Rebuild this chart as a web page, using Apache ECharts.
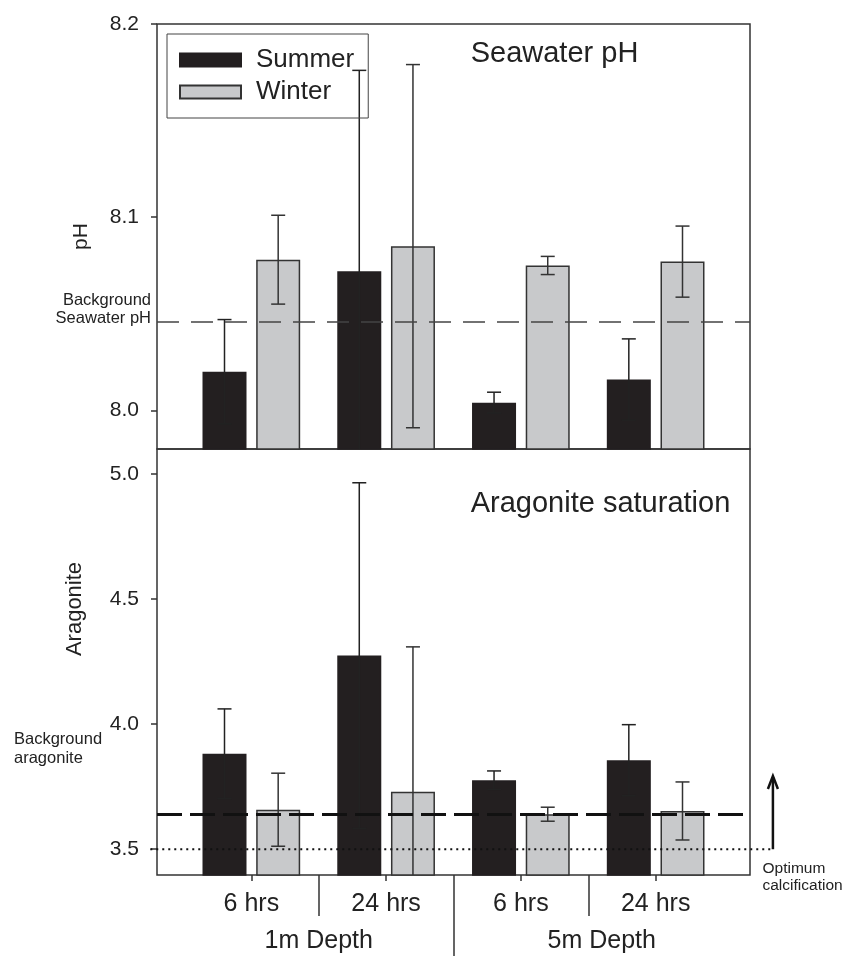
<!DOCTYPE html>
<html>
<head>
<meta charset="utf-8">
<script src="https://cdn.jsdelivr.net/npm/echarts@6/dist/echarts.min.js"></script>
<style>
html,body{margin:0;padding:0;background:#fff;}
#c{width:848px;height:956px;}
</style>
</head>
<body>
<div id="c"></div>
<script>
// ---- data ----
const groups = [1, 2, 3, 4];
const hourLabels = ['6 hrs', '24 hrs', '6 hrs', '24 hrs'];
const depthLabels = ['1m Depth', '5m Depth'];
const depthLabelPos = [1.5, 3.6];
const groupSeparators = [1.5, 3.5];
const depthSeparator = [2.5];

const phSummer = [8.020, 8.072, 8.004, 8.016];
const phSummerErr = [0.027, 0.104, 0.0054, 0.021];
const phWinter = [8.078, 8.085, 8.075, 8.077];
const phWinterErr = [0.023, 0.094, 0.0047, 0.0184];

const aragSummer = [3.882, 4.274, 3.776, 3.856];
const aragSummerErr = [0.179, 0.691, 0.037, 0.142];
const aragWinter = [3.658, 3.730, 3.640, 3.653];
const aragWinterErr = [0.146, 0.579, 0.028, 0.116];

const bgPH = 8.046;
const bgArag = 3.64;
const optimumArag = 3.5;
const optimumArrowTop = 3.793;
const optimumLineX = [0.25, 4.87];

const phTicks = [8.0, 8.1, 8.2];
const aragTicks = [3.5, 4.0, 4.5, 5.0];

// ---- styles ----
const FONT = 'Liberation Sans, Arial, sans-serif';
const BAR_W = 44;
const BAR_GAP = 0.22;
const BAR_SHIFT = (BAR_W + BAR_W * BAR_GAP) / 2;
const CAP = 14;
const SUMMER_COLOR = '#231f20';
const WINTER_COLOR = '#c8c9cb';
const LINE_COLOR = '#333';

function pairs(xs, ys) { return xs.map((x, i) => [x, ys[i]]); }
function triples(xs, ys, es) { return xs.map((x, i) => [x, ys[i], es[i]]); }

function errRender(sign, color) {
  return function (params, api) {
    const x = api.value(0), y = api.value(1), e = api.value(2);
    const hi = api.coord([x, y + e]);
    const lo = api.coord([x, y - e]);
    const cx = hi[0] + sign * BAR_SHIFT;
    const hw = CAP / 2;
    const style = { stroke: color, lineWidth: 1.5, fill: null };
    return {
      type: 'group',
      children: [
        { type: 'line', shape: { x1: cx, y1: hi[1], x2: cx, y2: lo[1] }, style },
        { type: 'line', shape: { x1: cx - hw, y1: hi[1], x2: cx + hw, y2: hi[1] }, style },
        { type: 'line', shape: { x1: cx - hw, y1: lo[1], x2: cx + hw, y2: lo[1] }, style }
      ]
    };
  };
}

function barSeries(name, xIdx, yIdx, values, color, border, extra) {
  return Object.assign({
    name, type: 'bar', xAxisIndex: xIdx, yAxisIndex: yIdx,
    data: pairs(groups, values),
    barWidth: BAR_W, barGap: (BAR_GAP * 100) + '%',
    itemStyle: { color, borderColor: border, borderWidth: 1.5 },
    clip: true, z: 2
  }, extra || {});
}

function errSeries(xIdx, yIdx, values, errs, sign, color) {
  return {
    type: 'custom', xAxisIndex: xIdx, yAxisIndex: yIdx,
    data: triples(groups, values, errs),
    encode: { x: 0, y: 1 },
    renderItem: errRender(sign, color),
    clip: true, z: 3, silent: true
  };
}

const chart = echarts.init(document.getElementById('c'));

const yAxisCommon = {
  type: 'value',
  axisLine: { show: false },
  splitLine: { show: false },
  nameLocation: 'middle',
  nameTextStyle: { color: '#222', fontFamily: FONT },
};

chart.setOption({
  animation: false,
  backgroundColor: '#fff',
  textStyle: { fontFamily: FONT, color: '#222' },
  grid: [
    { left: 157, top: 24, width: 593, height: 425, show: true, borderColor: LINE_COLOR, borderWidth: 1.5, backgroundColor: 'transparent' },
    { left: 157, top: 449, width: 593, height: 426, show: true, borderColor: LINE_COLOR, borderWidth: 1.5, backgroundColor: 'transparent' }
  ],
  legend: {
    orient: 'vertical', left: 167, top: 34,
    itemWidth: 61, itemHeight: 13, itemGap: 6,
    padding: [13, 14, 13, 12],
    borderColor: '#444', borderWidth: 1,
    icon: 'rect',
    textStyle: { fontSize: 26, color: '#222', lineHeight: 26, fontFamily: FONT, padding: [0, 0, 0, 10] },
    data: ['Summer', 'Winter']
  },
  xAxis: [
    { gridIndex: 0, type: 'value', min: 0.3, max: 4.7,
      axisLine: { show: false }, axisTick: { show: false }, axisLabel: { show: false }, splitLine: { show: false } },
    { gridIndex: 1, type: 'value', min: 0.3, max: 4.7, position: 'bottom',
      axisLine: { show: false }, splitLine: { show: false },
      axisTick: { show: true, customValues: groups, length: 6, lineStyle: { color: LINE_COLOR, width: 1.5 } },
      axisLabel: { show: true, customValues: groups, margin: 17, fontSize: 25, color: '#222', fontFamily: FONT,
        formatter: v => hourLabels[Math.round(v) - 1] } },
    { gridIndex: 1, type: 'value', min: 0.3, max: 4.7, position: 'bottom',
      axisLine: { show: false }, splitLine: { show: false },
      axisTick: { show: true, customValues: groupSeparators, length: 41, lineStyle: { color: LINE_COLOR, width: 1.5 } },
      axisLabel: { show: false } },
    { gridIndex: 1, type: 'value', min: 0.3, max: 4.7, position: 'bottom',
      axisLine: { show: false }, splitLine: { show: false },
      axisTick: { show: true, customValues: depthSeparator, length: 82, lineStyle: { color: LINE_COLOR, width: 1.5 } },
      axisLabel: { show: true, customValues: depthLabelPos, margin: 54, fontSize: 25, color: '#222', fontFamily: FONT,
        formatter: v => depthLabels[depthLabelPos.findIndex(p => Math.abs(p - v) < 1e-6)] } }
  ],
  yAxis: [
    Object.assign({}, yAxisCommon, {
      gridIndex: 0, min: 7.98, max: 8.2,
      name: 'pH', nameGap: 65,
      nameTextStyle: { color: '#222', fontFamily: FONT, fontSize: 21 },
      axisTick: { show: true, customValues: phTicks, length: 6, lineStyle: { color: LINE_COLOR, width: 1.5 } },
      axisLabel: { show: true, customValues: phTicks, margin: 18, fontSize: 21, color: '#222', fontFamily: FONT,
        formatter: v => v.toFixed(1) }
    }),
    Object.assign({}, yAxisCommon, {
      gridIndex: 1, min: 3.397, max: 5.1,
      name: 'Aragonite', nameGap: 71,
      nameTextStyle: { color: '#222', fontFamily: FONT, fontSize: 22, padding: [0, 0, 0, 106] },
      axisTick: { show: true, customValues: aragTicks, length: 6, lineStyle: { color: LINE_COLOR, width: 1.5 } },
      axisLabel: { show: true, customValues: aragTicks, margin: 18, fontSize: 21, color: '#222', fontFamily: FONT,
        formatter: v => v.toFixed(1) }
    })
  ],
  series: [
    barSeries('Summer', 0, 0, phSummer, SUMMER_COLOR, SUMMER_COLOR, {
      markLine: { silent: true, symbol: 'none', label: { show: false }, z: 5, precision: 4,
        lineStyle: { type: [22, 12], color: '#444', width: 1.5 },
        data: [{ yAxis: bgPH }] }
    }),
    barSeries('Winter', 0, 0, phWinter, WINTER_COLOR, LINE_COLOR),
    errSeries(0, 0, phSummer, phSummerErr, -1, '#222'),
    errSeries(0, 0, phWinter, phWinterErr, 1, LINE_COLOR),

    barSeries('Summer', 1, 1, aragSummer, SUMMER_COLOR, SUMMER_COLOR, {
      markLine: { silent: true, symbol: 'none', label: { show: false }, z: 5, precision: 4,
        lineStyle: { type: [25, 8], color: '#111', width: 3 },
        data: [{ yAxis: bgArag }] }
    }),
    barSeries('Winter', 1, 1, aragWinter, WINTER_COLOR, LINE_COLOR),
    errSeries(1, 1, aragSummer, aragSummerErr, -1, '#222'),
    errSeries(1, 1, aragWinter, aragWinterErr, 1, LINE_COLOR),
    {
      type: 'custom', xAxisIndex: 1, yAxisIndex: 1, clip: false, z: 5, silent: true,
      data: [[optimumLineX[0], optimumLineX[1], optimumArag, optimumArrowTop]],
      encode: { x: [0, 1], y: [2, 3] },
      renderItem: function (params, api) {
        const a = api.coord([api.value(0), api.value(2)]);
        const b = api.coord([api.value(1), api.value(2)]);
        const t = api.coord([api.value(1), api.value(3)]);
        return {
          type: 'group',
          children: [
            { type: 'line', shape: { x1: a[0], y1: a[1], x2: b[0], y2: b[1] },
              style: { stroke: '#111', lineWidth: 2, lineDash: [2, 4], fill: null } },
            { type: 'line', shape: { x1: b[0], y1: b[1], x2: t[0], y2: t[1] + 1 },
              style: { stroke: '#111', lineWidth: 2.5, fill: null } },
            { type: 'polyline', shape: { points: [[t[0] - 5, t[1] + 13], [t[0], t[1]], [t[0] + 5, t[1] + 13]] },
              style: { stroke: '#111', lineWidth: 2.5, fill: null } }
          ]
        };
      }
    }
  ],
  graphic: [
    { type: 'text', x: 554.5, y: 54, silent: true,
      style: { text: 'Seawater pH', font: '29px ' + FONT, fill: '#222', align: 'center', verticalAlign: 'middle' } },
    { type: 'text', x: 600.5, y: 504, silent: true,
      style: { text: 'Aragonite saturation', font: '29px ' + FONT, fill: '#222', align: 'center', verticalAlign: 'middle' } },
    { type: 'text', x: 151, y: 309.5, silent: true,
      style: { text: 'Background\nSeawater pH', font: '16.5px ' + FONT, lineHeight: 18, fill: '#222', align: 'right', verticalAlign: 'middle' } },
    { type: 'text', x: 14, y: 749, silent: true,
      style: { text: 'Background\naragonite', font: '16.5px ' + FONT, lineHeight: 18.5, fill: '#222', align: 'left', verticalAlign: 'middle' } },
    { type: 'text', x: 762.5, y: 877.5, silent: true,
      style: { text: 'Optimum\ncalcification', font: '15.5px ' + FONT, lineHeight: 16.7, fill: '#222', align: 'left', verticalAlign: 'middle' } }
  ]
});
</script>
</body>
</html>
